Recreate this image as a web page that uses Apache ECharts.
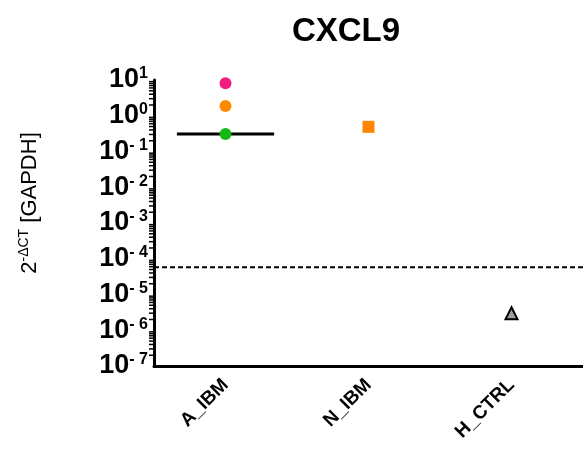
<!DOCTYPE html>
<html>
<head>
<meta charset="utf-8">
<style>
  html, body { margin: 0; padding: 0; background: #fff; }
  #chart { width: 583px; height: 459px; }
</style>
<script src="https://cdn.jsdelivr.net/npm/echarts@6/dist/echarts.min.js"></script>
</head>
<body>
<div id="chart"></div>
<script>
var categories = ['A_IBM', 'N_IBM', 'H_CTRL'];
var aIbmValues = [8.1, 1.87, 0.31];
var aIbmColors = ['#f01e82', '#ff8a00', '#14b814'];
var aIbmMedian = 0.31;
var nIbmValues = [0.49];
var hCtrlValues = [3.0e-6];
var cutoff = 5.8e-5;
var decades = [-7, -6, -5, -4, -3, -2, -1, 0];
var minorMultipliers = [2, 3, 4, 5, 6, 7, 8, 9];

var font = 'Liberation Sans, Arial, sans-serif';

var minorTicks = [];
decades.forEach(function (d) {
  minorMultipliers.forEach(function (m) {
    minorTicks.push([0, m * Math.pow(10, d)]);
  });
});

var chart = echarts.init(document.getElementById('chart'), null, { renderer: 'canvas' });
chart.setOption({
  animation: false,
  backgroundColor: '#fff',
  title: {
    text: 'CXCL9',
    left: 341,
    top: 10,
    textAlign: 'center',
    textStyle: { fontFamily: font, fontSize: 33, fontWeight: 'bold', color: '#000' }
  },
  grid: { left: 154, right: 0, top: 80, bottom: 93 },
  xAxis: {
    type: 'category',
    data: categories,
    boundaryGap: true,
    axisLine: { onZero: false, lineStyle: { color: '#000', width: 3 } },
    axisTick: { alignWithLabel: true, length: 7, lineStyle: { color: '#000', width: 2 } },
    axisLabel: {
      rotate: 45, margin: 16, color: '#000',
      fontFamily: font, fontSize: 19, fontWeight: 'bold'
    },
    splitLine: { show: false }
  },
  yAxis: {
    type: 'log',
    logBase: 10,
    min: 1e-7,
    max: 10,
    interval: 1,
    name: '{n|2}{s|-ΔCT}{n| [GAPDH]}',
    nameLocation: 'middle',
    nameRotate: 90,
    nameGap: 111,
    nameTextStyle: {
      padding: [0, 0, 0, 40],
      rich: {
        n: { fontFamily: font, fontSize: 22, color: '#000', lineHeight: 26 },
        s: { fontFamily: font, fontSize: 14, color: '#000', lineHeight: 26, verticalAlign: 'top' }
      }
    },
    axisLine: { show: true, lineStyle: { color: '#000', width: 3 } },
    axisTick: { length: 8, lineStyle: { color: '#000', width: 2 } },
    splitLine: { show: false },
    axisLabel: {
      margin: 6,
      formatter: function (v) {
        var e = Math.round(Math.log10(v));
        return '{b|10}{s|' + (e < 0 ? '- ' + (-e) : e) + '}';
      },
      rich: {
        b: { fontFamily: font, fontSize: 27, fontWeight: 'bold', color: '#000', lineHeight: 28 },
        s: { fontFamily: font, fontSize: 16, fontWeight: 'bold', color: '#000', lineHeight: 28, verticalAlign: 'top' }
      }
    }
  },
  series: [
    {
      type: 'custom',
      silent: true,
      clip: false,
      renderItem: function (params, api) {
        var p = api.coord([0, api.value(1)]);
        var x0 = params.coordSys.x;
        return {
          type: 'line',
          shape: { x1: x0 - 5, y1: p[1], x2: x0, y2: p[1] },
          style: { stroke: '#000', lineWidth: 1.5 }
        };
      },
      data: minorTicks,
      z: 1
    },
    {
      type: 'custom',
      silent: true,
      renderItem: function (params, api) {
        var p = api.coord([0, api.value(1)]);
        var x0 = params.coordSys.x;
        return {
          type: 'line',
          shape: { x1: x0, y1: p[1], x2: x0 + params.coordSys.width, y2: p[1] },
          style: { stroke: '#000', lineWidth: 2, lineDash: [5, 3] }
        };
      },
      data: [[0, cutoff]],
      z: 2
    },
    {
      type: 'custom',
      silent: true,
      renderItem: function (params, api) {
        var p = api.coord([api.value(0), api.value(1)]);
        var half = api.size([1, 0])[0] * 0.34;
        return {
          type: 'line',
          shape: { x1: p[0] - half, y1: p[1], x2: p[0] + half, y2: p[1] },
          style: { stroke: '#000', lineWidth: 3 }
        };
      },
      data: [[0, aIbmMedian]],
      z: 2
    },
    {
      type: 'scatter',
      symbol: 'circle',
      symbolSize: 12,
      data: aIbmValues.map(function (v, i) {
        return { value: [0, v], itemStyle: { color: aIbmColors[i], opacity: 1 } };
      }),
      z: 3
    },
    {
      type: 'scatter',
      symbol: 'rect',
      symbolSize: 12,
      itemStyle: { color: '#ff8400', opacity: 1 },
      data: nIbmValues.map(function (v) { return [1, v]; }),
      z: 3
    },
    {
      type: 'scatter',
      symbol: 'triangle',
      symbolSize: 12,
      itemStyle: { color: '#a0a0a0', borderColor: '#000', borderWidth: 2, opacity: 1 },
      data: hCtrlValues.map(function (v) { return [2, v]; }),
      z: 3
    }
  ]
});
window.addEventListener('resize', function () { chart.resize(); });
</script>
</body>
</html>
